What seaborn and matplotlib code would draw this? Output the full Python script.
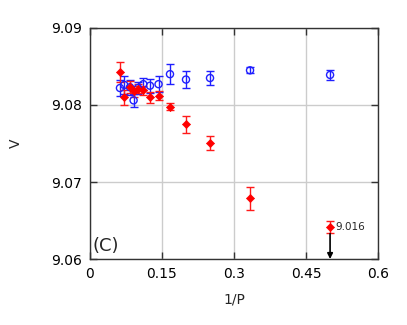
import numpy as np
import pandas as pd
import matplotlib
matplotlib.use('Agg')
import matplotlib.pyplot as plt
import seaborn as sns

# system sizes P, x axis is 1/P
P = [2, 3, 4, 5, 6, 7, 8, 9, 10, 11, 12, 14, 16]

# open blue circles
v_blue = [9.0839, 9.0845, 9.0835, 9.0833, 9.0840, 9.0827, 9.0825,
          9.0827, 9.0822, 9.0806, 9.0823, 9.0826, 9.0822]
err_blue = [0.0006, 0.0004, 0.0009, 0.0011, 0.0013, 0.0010, 0.0009,
            0.0008, 0.0008, 0.0008, 0.0010, 0.0012, 0.0010]

# filled red points
v_red = [9.0642, 9.0679, 9.0751, 9.0775, 9.0798, 9.0812, 9.0810,
         9.0819, 9.0821, 9.0818, 9.0823, 9.0810, 9.0843]
err_red = [0.0008, 0.0015, 0.0009, 0.0011, 0.0005, 0.0006, 0.0007,
           0.0006, 0.0006, 0.0007, 0.0008, 0.0010, 0.0013]

xticks = [0, 0.15, 0.3, 0.45, 0.6]
yticks = [9.06, 9.07, 9.08, 9.09]

df = pd.DataFrame({'x': 1 / np.array(P), 'blue': v_blue, 'eb': err_blue,
                   'red': v_red, 'er': err_red})

sns.set_style('white')
fig = plt.figure(figsize=(4.07, 3.25), dpi=100)
ax = fig.add_axes([0.221, 0.203, 0.708, 0.711])

ax.errorbar(df['x'], df['blue'], yerr=df['eb'], fmt='none', ecolor='#1f1fff',
            elinewidth=1.0, capsize=3, capthick=1.0, zorder=3)
sns.scatterplot(x='x', y='blue', data=df, ax=ax, marker='o', s=26,
                facecolor='none', edgecolor='#1f1fff', linewidth=1.0, zorder=4)

ax.errorbar(df['x'], df['red'], yerr=df['er'], fmt='none', ecolor='#ff1a1a',
            elinewidth=1.0, capsize=3, capthick=1.0, zorder=3)
sns.scatterplot(x='x', y='red', data=df, ax=ax, marker='D', s=17,
                color='#ff0000', edgecolor='#ff0000', linewidth=0.5, zorder=4)

# the off-scale point at P=2
ax.annotate('', xy=(0.5, 9.06), xytext=(0.5, 9.0633),
            arrowprops=dict(arrowstyle='-|>', color='black', lw=1.2,
                            mutation_scale=8, shrinkA=0, shrinkB=0))
ax.text(0.51, 9.0642, '9.016', fontsize=7.5, va='center', ha='left')
ax.text(0.005, 9.0605, '(C)', fontsize=13, va='bottom', ha='left')

ax.set_xlim(0, 0.6)
ax.set_ylim(9.06, 9.09)
ax.set_xticks(xticks)
ax.set_xticklabels(['0', '0.15', '0.3', '0.45', '0.6'])
ax.set_yticks(yticks)
ax.set_yticklabels(['9.06', '9.07', '9.08', '9.09'])
ax.grid(True, color='#cccccc', linewidth=1.0)
ax.set_axisbelow(True)
ax.tick_params(direction='in', length=5, width=1, colors='#333333',
               labelcolor='black', labelsize=10, top=True, right=True,
               bottom=True, left=True, pad=6)
for s in ax.spines.values():
    s.set_color('#333333')
    s.set_linewidth(1.0)
ax.set_xlabel('1/P', fontsize=10, labelpad=8)
ax.set_ylabel('V', fontsize=10, labelpad=20)

fig.savefig('out.png', dpi=100)
